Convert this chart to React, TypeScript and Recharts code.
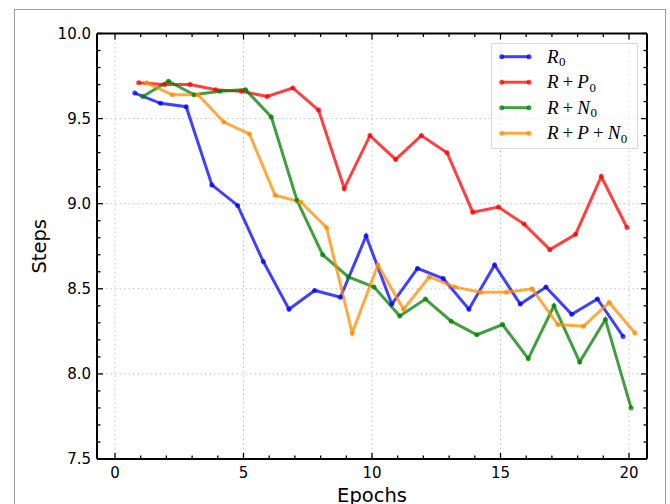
import { LineChart, Line, XAxis, YAxis, CartesianGrid } from "recharts";

const epochs = [1, 2, 3, 4, 5, 6, 7, 8, 9, 10, 11, 12, 13, 14, 15, 16, 17, 18, 19, 20];

// each series is drawn slightly shifted along x so the points don't sit on top of each other
const dodge = { r0: -0.23, rp: -0.08, rn: 0.08, rpn: 0.23 };

const r0Steps = [9.65, 9.59, 9.57, 9.11, 8.99, 8.66, 8.38, 8.49, 8.45, 8.81, 8.41, 8.62, 8.56, 8.38, 8.64, 8.41, 8.51, 8.35, 8.44, 8.22];
const rpSteps = [9.71, 9.7, 9.7, 9.67, 9.66, 9.63, 9.68, 9.55, 9.09, 9.4, 9.26, 9.4, 9.3, 8.95, 8.98, 8.88, 8.73, 8.82, 9.16, 8.86];
const rnSteps = [9.63, 9.72, 9.64, 9.66, 9.67, 9.51, 9.02, 8.7, 8.57, 8.51, 8.34, 8.44, 8.31, 8.23, 8.29, 8.09, 8.4, 8.07, 8.32, 7.8];
const rpnSteps = [9.71, 9.64, 9.64, 9.48, 9.41, 9.05, 9.01, 8.86, 8.24, 8.64, 8.38, 8.57, 8.51, 8.48, 8.48, 8.5, 8.29, 8.28, 8.42, 8.24];

const xMajorTicks = [0, 5, 10, 15, 20];
const xMinorTicks = [1, 2, 3, 4, 6, 7, 8, 9, 11, 12, 13, 14, 16, 17, 18, 19];
const yMajorTicks = [7.5, 8.0, 8.5, 9.0, 9.5, 10.0];
const yMinorTicks = [
  7.6, 7.7, 7.8, 7.9, 8.1, 8.2, 8.3, 8.4, 8.6, 8.7, 8.8, 8.9,
  9.1, 9.2, 9.3, 9.4, 9.6, 9.7, 9.8, 9.9,
];

const xTicks = [...xMajorTicks, ...xMinorTicks].sort((a, b) => a - b);
const yTicks = [...yMajorTicks, ...yMinorTicks].sort((a, b) => a - b);

const toPoints = (values: number[], shift: number) =>
  values.map((y, i) => ({ x: epochs[i] + shift, y }));

const series = [
  { key: "r0", color: "rgb(0,0,255)", data: toPoints(r0Steps, dodge.r0), label: [["R", true]], sub: "0" },
  { key: "rp", color: "rgb(255,0,0)", data: toPoints(rpSteps, dodge.rp), label: [["R", true], ["+", false], ["P", true]], sub: "0" },
  { key: "rn", color: "rgb(0,128,0)", data: toPoints(rnSteps, dodge.rn), label: [["R", true], ["+", false], ["N", true]], sub: "0" },
  { key: "rpn", color: "rgb(255,140,0)", data: toPoints(rpnSteps, dodge.rpn), label: [["R", true], ["+", false], ["P", true], ["+", false], ["N", true]], sub: "0" },
] as const;

const FONT = "DejaVu Sans";
const MAJOR = 6;
const MINOR = 3.5;

const isMajor = (v: number, majors: number[]) => majors.some((m) => Math.abs(m - v) < 1e-6);

function BottomTick({ x, y, payload }: any) {
  const major = isMajor(payload.value, xMajorTicks);
  return (
    <g>
      <line x1={x} x2={x} y1={y} y2={y - (major ? MAJOR : MINOR)} stroke="#000" strokeWidth={1.3} />
      {major && (
        <text x={x} y={y + 19} textAnchor="middle" fontSize={15} fontFamily={FONT} fill="#000">
          {payload.value}
        </text>
      )}
    </g>
  );
}

function TopTick({ x, y, payload }: any) {
  const major = isMajor(payload.value, xMajorTicks);
  return <line x1={x} x2={x} y1={y} y2={y + (major ? MAJOR : MINOR)} stroke="#000" strokeWidth={1.3} />;
}

function LeftTick({ x, y, payload }: any) {
  const major = isMajor(payload.value, yMajorTicks);
  return (
    <g>
      <line x1={x} x2={x + (major ? MAJOR : MINOR)} y1={y} y2={y} stroke="#000" strokeWidth={1.3} />
      {major && (
        <text x={x - 6} y={y + 5.4} textAnchor="end" fontSize={15} fontFamily={FONT} fill="#000">
          {payload.value.toFixed(1)}
        </text>
      )}
    </g>
  );
}

function RightTick({ x, y, payload }: any) {
  const major = isMajor(payload.value, yMajorTicks);
  return <line x1={x} x2={x - (major ? MAJOR : MINOR)} y1={y} y2={y} stroke="#000" strokeWidth={1.3} />;
}

function MathLegend() {
  return (
    <div
      style={{
        position: "absolute",
        left: 491,
        top: 43,
        width: 147,
        height: 106,
        boxSizing: "border-box",
        border: "1.5px solid #d8d8d8",
        background: "rgba(255,255,255,0.6)",
      }}
    >
      <svg width={147} height={106} style={{ position: "absolute", left: -1.5, top: -1.5 }}>
        {series.map((s, i) => {
          const cy = 13.7 + i * 25.5;
          return (
            <g key={s.key}>
              <line x1={10.7} x2={38} y1={cy} y2={cy} stroke={s.color} strokeOpacity={0.75} strokeWidth={3} />
              <circle cx={10.7} cy={cy} r={2.5} fill={s.color} fillOpacity={0.75} />
              <circle cx={38} cy={cy} r={2.5} fill={s.color} fillOpacity={0.75} />
              <text x={56} y={cy + 6} fontFamily="Liberation Serif" fontSize={19} fill="#000">
                {s.label.map(([t, italic], j) => (
                  <tspan key={j} fontStyle={italic ? "italic" : "normal"} dx={j === 0 ? 0 : 4}>
                    {t}
                  </tspan>
                ))}
                <tspan fontSize={13} dy={3.5} dx={0.5}>
                  {s.sub}
                </tspan>
              </text>
            </g>
          );
        })}
      </svg>
    </div>
  );
}

export default function App() {
  return (
    <div
      style={{
        position: "absolute",
        left: 0,
        top: 0,
        width: 670,
        height: 504,
        overflow: "hidden",
        background: "#fff",
      }}
    >
      <div
        style={{
          position: "absolute",
          left: 14,
          top: 9,
          width: 652,
          height: 600,
          boxSizing: "border-box",
          border: "1px solid #a0a0a0",
        }}
      />
      <div style={{ position: "absolute", left: 0, top: 0 }}>
        <LineChart width={670} height={504} margin={{ top: 32.5, right: 22, bottom: 0, left: 37 }}>
          <CartesianGrid
            horizontalValues={yMajorTicks}
            verticalValues={xMajorTicks}
            stroke="#c0c0c0"
            strokeDasharray="1.5 3"
          />
          <XAxis
            dataKey="x"
            type="number"
            domain={[-0.7, 20.7]}
            ticks={xTicks}
            interval={0}
            allowDataOverflow
            height={45}
            tickSize={0}
            tickMargin={0}
            tickLine={false}
            axisLine={{ stroke: "#000", strokeWidth: 2 }}
            tick={<BottomTick />}
            label={{ value: "Epochs", position: "insideBottom", offset: 2, fontSize: 19.5, fontFamily: FONT, fill: "#000" }}
          />
          <XAxis
            xAxisId="top"
            orientation="top"
            dataKey="x"
            type="number"
            domain={[-0.7, 20.7]}
            ticks={xTicks}
            interval={0}
            allowDataOverflow
            height={1}
            tickSize={0}
            tickMargin={0}
            tickLine={false}
            axisLine={{ stroke: "#000", strokeWidth: 2 }}
            tick={<TopTick />}
          />
          <YAxis
            type="number"
            domain={[7.5, 10]}
            ticks={yTicks}
            interval={0}
            allowDataOverflow
            width={60}
            tickSize={0}
            tickMargin={0}
            tickLine={false}
            axisLine={{ stroke: "#000", strokeWidth: 2 }}
            tick={<LeftTick />}
            label={{
              value: "Steps",
              angle: -90,
              position: "insideLeft",
              offset: 2,
              fontSize: 19.5,
              fontFamily: FONT,
              fill: "#000",
              style: { textAnchor: "middle" },
            }}
          />
          <YAxis
            yAxisId="right"
            orientation="right"
            type="number"
            domain={[7.5, 10]}
            ticks={yTicks}
            interval={0}
            allowDataOverflow
            width={1}
            tickSize={0}
            tickMargin={0}
            tickLine={false}
            axisLine={{ stroke: "#000", strokeWidth: 2 }}
            tick={<RightTick />}
          />
          {series.map((s) => (
            <Line
              key={s.key}
              data={s.data as any}
              dataKey="y"
              type="linear"
              stroke={s.color}
              strokeOpacity={0.75}
              strokeWidth={3}
              dot={{ r: 2.5, fill: s.color, fillOpacity: 0.75, stroke: "none" }}
              activeDot={false}
              isAnimationActive={false}
            />
          ))}
        </LineChart>
      </div>
      <MathLegend />
    </div>
  );
}
